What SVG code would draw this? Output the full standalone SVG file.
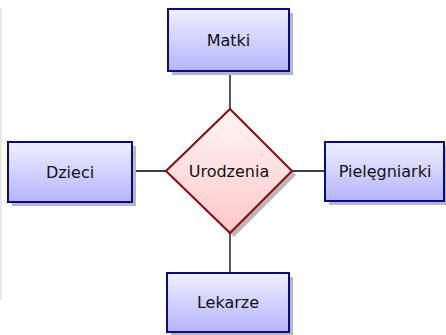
<svg xmlns="http://www.w3.org/2000/svg" width="446" height="335" viewBox="0 0 446 335">
<defs>
<linearGradient id="gb" x1="0" y1="0" x2="0" y2="1"><stop offset="0" stop-color="#f0f0ff"/><stop offset="1" stop-color="#b4b4ff"/></linearGradient>
<linearGradient id="gr" x1="0" y1="0" x2="0" y2="1"><stop offset="0" stop-color="#fff6f6"/><stop offset="1" stop-color="#ffc8c8"/></linearGradient>
<style>
.box{fill:url(#gb);stroke:#0a0a8c;stroke-width:2}
.dia{fill:url(#gr);stroke:#8c0a0a;stroke-width:2}
.sh{fill:#b8b8b8}
.t{font-family:"DejaVu Sans",sans-serif;font-size:16px;fill:#111111;text-anchor:middle}
.c{stroke:#000000;stroke-width:1.3;fill:none}
</style>
</defs>
<rect width="446" height="335" fill="#ffffff"/>
<line x1="0.8" y1="8" x2="0.8" y2="300" stroke="#e4e4e4" stroke-width="1.6"/>
<g id="connectors">
<line class="c" x1="230" y1="71" x2="230" y2="109"/>
<line class="c" x1="230" y1="233" x2="230" y2="273"/>
<line class="c" x1="132" y1="171" x2="166" y2="171"/>
<line class="c" x1="292" y1="171" x2="325" y2="171"/>
</g>
<g id="matki">
<rect class="sh" x="172" y="13" width="121" height="62"/>
<rect class="box" x="168" y="9" width="121" height="62"/>
<text class="t" x="228.5" y="46">Matki</text>
</g>
<g id="dzieci">
<rect class="sh" x="12" y="146" width="124" height="60"/>
<rect class="box" x="8" y="142" width="124" height="60"/>
<text class="t" x="70" y="177.5">Dzieci</text>
</g>
<g id="pielegniarki">
<rect class="sh" x="329" y="146" width="118" height="59"/>
<rect class="box" x="325" y="142" width="119" height="59"/>
<text class="t" x="385" y="177">Pielęgniarki</text>
</g>
<g id="lekarze">
<rect class="sh" x="171" y="277" width="122" height="59"/>
<rect class="box" x="167" y="273" width="122" height="59"/>
<text class="t" x="228" y="308">Lekarze</text>
</g>
<g id="urodzenia">
<polygon class="sh" points="234,113 296,175 234,237 170,175"/>
<polygon class="dia" points="230,109 292,171 230,233 166,171"/>
<text class="t" x="229" y="177">Urodzenia</text>
</g>
</svg>
